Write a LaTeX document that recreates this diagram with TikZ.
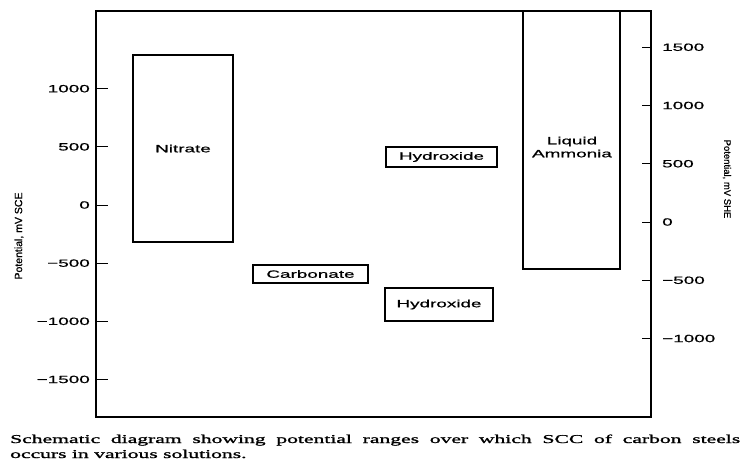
\documentclass[tikz,border=0pt]{standalone}
\usepackage{fontspec}
\newfontfamily\plotfont[FakeStretch=1.8, FakeBold=0.8]{Liberation Sans}
\newfontfamily\axisfont[FakeBold=0.8]{Liberation Sans}
\newfontfamily\capfont[FakeStretch=1.8, FakeBold=1.5]{Liberation Serif}
\usetikzlibrary{calc}
\tikzset{
  rangebox/.style={draw, line width=1.7pt, inner sep=0pt, outer sep=0pt, align=center,
    font=\plotfont\fontsize{10.5}{13}\selectfont},
  ticklabel/.style={inner sep=0pt, font=\plotfont\fontsize{10.5}{12}\selectfont},
  axislabel/.style={inner sep=0pt, font=\axisfont\fontsize{10.5}{12}\selectfont},
  caption/.style={anchor=base west, inner sep=0pt, font=\capfont\fontsize{12}{15}\selectfont}
}

\begin{document}
\begin{tikzpicture}[x=1pt, y=-1pt]
	%%%%% START %%%%%
	\useasboundingbox (0,0) rectangle (743,463);
	
	\draw[line width=1.3pt] (96,11) rectangle (651,417);
	
	% left scale, mV SCE
	\foreach \v/\t [count=\i] in {1000/1000, 500/500, 0/0, -500/−500, -1000/−1000, -1500/−1500} {
		\draw[line width=0.8pt] (96,{205-0.1163*\v}) -- (108,{205-0.1163*\v});
		\node[ticklabel, anchor=east] (sce\i) at (90,{205-0.1163*\v}) {\t};
	}
	\node[axislabel, rotate=90] (scelabel) at (19,236) {Potential, mV SCE};
	
	% right scale, mV SHE
	\foreach \v/\t [count=\i] in {1500/1500, 1000/1000, 500/500, 0/0, -500/−500, -1000/−1000} {
		\draw[line width=0.8pt] (642,{222-0.1165*\v}) -- (651,{222-0.1165*\v});
		\node[ticklabel, anchor=west] (she\i) at (662,{222-0.1165*\v}) {\t};
	}
	\node[axislabel, rotate=-90, font=\axisfont\fontsize{9.5}{11}\selectfont] (shelabel) at (727,179) {Potential, mV SHE};
	
	% ranges
	\node[rangebox, minimum width=100pt, minimum height=187pt] (nitrate) at (183,148.5) {Nitrate};
	\node[rangebox, minimum width=115pt, minimum height=18pt] (carbonate) at (310.5,274) {Carbonate};
	\node[rangebox, minimum width=111pt, minimum height=20pt] (hydroxidehi) at (441.5,157) {Hydroxide};
	\node[rangebox, minimum width=108pt, minimum height=33pt] (hydroxidelo) at (439,304.5) {Hydroxide};
	\node[rangebox, minimum width=97pt, minimum height=258pt] (ammonia) at (571.5,140) {};
	\node[rangebox, draw=none] (ammonialabel) at (572,147) {Liquid\\Ammonia};
	
	% caption
	\node[caption] (capone) at (10,443) {\makebox[730pt][s]{Schematic diagram showing potential ranges over which SCC of carbon steels}};
	\node[caption] (captwo) at (10,458) {occurs in various solutions.};
	%%%%% END %%%%%
\end{tikzpicture}
\end{document}
